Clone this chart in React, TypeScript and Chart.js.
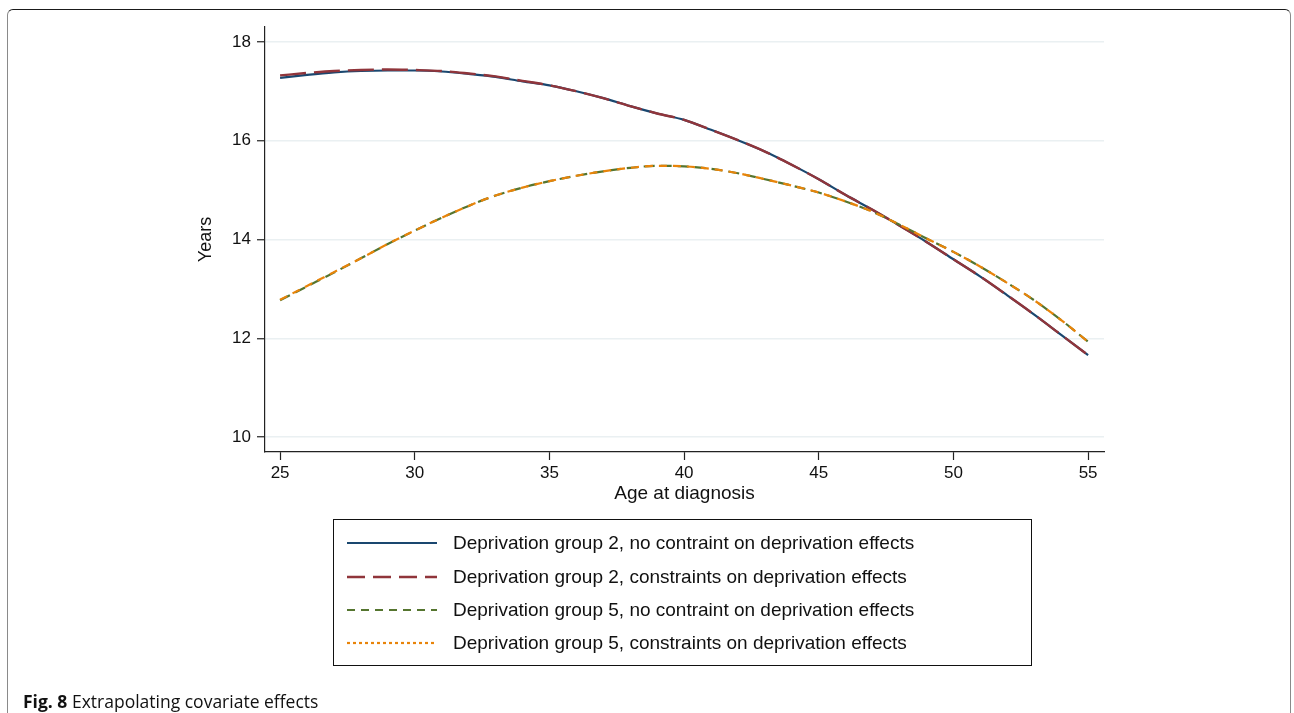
import React, { useEffect, useRef } from "react";
import { Chart, registerables } from "chart.js";

Chart.register(...registerables);

const ages = [25, 26, 27, 28, 29, 30, 31, 32, 33, 34, 35, 36, 37, 38, 39, 40, 41, 42, 43, 44, 45, 46, 47, 48, 49, 50, 51, 52, 53, 54, 55];

const dep2Free = [17.27, 17.33, 17.38, 17.41, 17.42, 17.42, 17.40, 17.35, 17.29, 17.20, 17.12, 17.00, 16.86, 16.70, 16.55, 16.42, 16.22, 16.01, 15.78, 15.51, 15.22, 14.90, 14.60, 14.28, 13.95, 13.60, 13.25, 12.87, 12.48, 12.07, 11.66];
const dep2Constr = [17.32, 17.37, 17.41, 17.43, 17.44, 17.43, 17.41, 17.36, 17.30, 17.21, 17.12, 17.00, 16.86, 16.70, 16.55, 16.42, 16.22, 16.01, 15.78, 15.51, 15.22, 14.90, 14.60, 14.28, 13.95, 13.60, 13.25, 12.87, 12.48, 12.07, 11.66];
const dep5Free = [12.77, 13.05, 13.33, 13.62, 13.91, 14.18, 14.44, 14.68, 14.89, 15.05, 15.18, 15.29, 15.38, 15.45, 15.49, 15.48, 15.43, 15.34, 15.22, 15.09, 14.95, 14.77, 14.56, 14.30, 14.02, 13.75, 13.45, 13.12, 12.77, 12.37, 11.93];
const dep5Constr = [12.78, 13.06, 13.34, 13.62, 13.91, 14.18, 14.44, 14.68, 14.89, 15.05, 15.18, 15.29, 15.38, 15.45, 15.49, 15.48, 15.43, 15.34, 15.22, 15.09, 14.95, 14.77, 14.56, 14.30, 14.02, 13.75, 13.45, 13.12, 12.77, 12.37, 11.93];

const seriesLabels = [
  "Deprivation group 2, no contraint on deprivation effects",
  "Deprivation group 2, constraints on deprivation effects",
  "Deprivation group 5, no contraint on deprivation effects",
  "Deprivation group 5, constraints on deprivation effects",
];

const xTicks = [25, 30, 35, 40, 45, 50, 55];
const yTicks = [10, 12, 14, 16, 18];

const FONT = "'Liberation Sans', Arial, Helvetica, sans-serif";

const legendPlugin = {
  id: "boxLegend",
  afterDraw(chart: any) {
    const ctx = chart.ctx;
    ctx.save();
    ctx.strokeStyle = "#111";
    ctx.lineWidth = 1;
    ctx.setLineDash([]);
    ctx.strokeRect(333.5, 519.5, 698, 146);
    const rows = [543, 577, 610, 643];
    chart.data.datasets.forEach((ds: any, i: number) => {
      const y = rows[i];
      ctx.save();
      ctx.strokeStyle = ds.borderColor;
      ctx.lineWidth = ds.borderWidth;
      ctx.setLineDash(ds.legendDash || []);
      ctx.beginPath();
      ctx.moveTo(347, y);
      ctx.lineTo(437, y);
      ctx.stroke();
      ctx.restore();
      ctx.fillStyle = "#111";
      ctx.font = `19px ${FONT}`;
      ctx.textBaseline = "middle";
      ctx.textAlign = "left";
      ctx.fillText(ds.label, 453, y + 1);
    });
    ctx.restore();
  },
};

export default function App() {
  const ref = useRef<HTMLCanvasElement | null>(null);

  useEffect(() => {
    if (!ref.current) return;
    const mk = (vals: number[]) => ages.map((a, i) => ({ x: a, y: vals[i] }));
    const chart = new Chart(ref.current, {
      type: "line",
      data: {
        datasets: [
          {
            label: seriesLabels[0],
            data: mk(dep2Free),
            borderColor: "#1a476f",
            borderWidth: 2.2,
            pointRadius: 0,
            cubicInterpolationMode: "monotone",
            order: 4,
            legendDash: [],
          } as any,
          {
            label: seriesLabels[1],
            data: mk(dep2Constr),
            borderColor: "#90353b",
            borderWidth: 2.4,
            borderDash: [26, 8],
            pointRadius: 0,
            cubicInterpolationMode: "monotone",
            order: 3,
            legendDash: [18, 8],
          } as any,
          {
            label: seriesLabels[2],
            data: mk(dep5Free),
            borderColor: "#55752f",
            borderWidth: 2.2,
            borderDash: [11, 6],
            pointRadius: 0,
            cubicInterpolationMode: "monotone",
            order: 2,
            legendDash: [8, 6],
          } as any,
          {
            label: seriesLabels[3],
            data: mk(dep5Constr),
            borderColor: "#e8840a",
            borderWidth: 2.2,
            borderDash: [8, 6],
            pointRadius: 0,
            cubicInterpolationMode: "monotone",
            order: 1,
            legendDash: [3, 3],
          } as any,
        ],
      },
      options: {
        responsive: false,
        animation: false,
        events: [],
        layout: { padding: { left: 195, top: 27, right: 190, bottom: 201 } },
        plugins: { legend: { display: false }, tooltip: { enabled: false } },
        scales: {
          x: {
            type: "linear",
            min: 24.44,
            max: 55.59,
            afterBuildTicks: (s: any) => {
              s.ticks = xTicks.map((v) => ({ value: v }));
            },
            afterFit: (s: any) => {
              s.height = 60;
            },
            grid: { drawOnChartArea: false, drawTicks: true, tickLength: 8, tickColor: "#222", tickWidth: 1.2 },
            border: { display: true, color: "#222", width: 1.2 },
            ticks: { color: "#111", font: { size: 17, family: FONT }, padding: 3, maxRotation: 0, autoSkip: false },
            title: { display: true, text: "Age at diagnosis", color: "#111", font: { size: 19, family: FONT }, padding: { top: 0, bottom: 7 } },
          },
          y: {
            type: "linear",
            min: 9.7,
            max: 18.3,
            afterBuildTicks: (s: any) => {
              s.ticks = yTicks.map((v) => ({ value: v }));
            },
            afterFit: (s: any) => {
              s.width = 70;
            },
            grid: { drawOnChartArea: true, color: "#eaf0f2", lineWidth: 1.5, drawTicks: true, tickLength: 8, tickColor: "#222", tickWidth: 1.2 },
            border: { display: true, color: "#222", width: 1.2 },
            ticks: { color: "#111", font: { size: 17, family: FONT }, padding: 6, autoSkip: false },
            title: { display: true, text: "Years", color: "#111", font: { size: 18, family: FONT }, padding: { top: 0, bottom: 0 } },
          },
        },
      } as any,
      plugins: [legendPlugin],
    });
    return () => chart.destroy();
  }, []);

  return (
    <div style={{ position: "absolute", left: 0, top: 0, width: 1294, height: 713, overflow: "hidden", background: "#fff" }}>
      <div
        style={{
          position: "absolute",
          left: 7,
          top: 9,
          width: 1284,
          height: 730,
          borderTop: "1.5px solid #1a1a1a",
          borderLeft: "1px solid #8a8a8a",
          borderRight: "1px solid #8a8a8a",
          borderRadius: "6px 6px 0 0",
          boxSizing: "border-box",
        }}
      />
      <canvas ref={ref} width={1294} height={713} style={{ position: "absolute", left: 0, top: 0, width: 1294, height: 713 }} />
      <div
        style={{
          position: "absolute",
          left: 23,
          top: 690,
          fontFamily: "'Open Sans', 'Noto Sans', sans-serif",
          fontSize: 17.5,
          color: "#111",
          whiteSpace: "nowrap",
          lineHeight: "22px",
        }}
      >
        <span style={{ fontWeight: 700 }}>Fig. 8</span> Extrapolating covariate effects
      </div>
    </div>
  );
}
